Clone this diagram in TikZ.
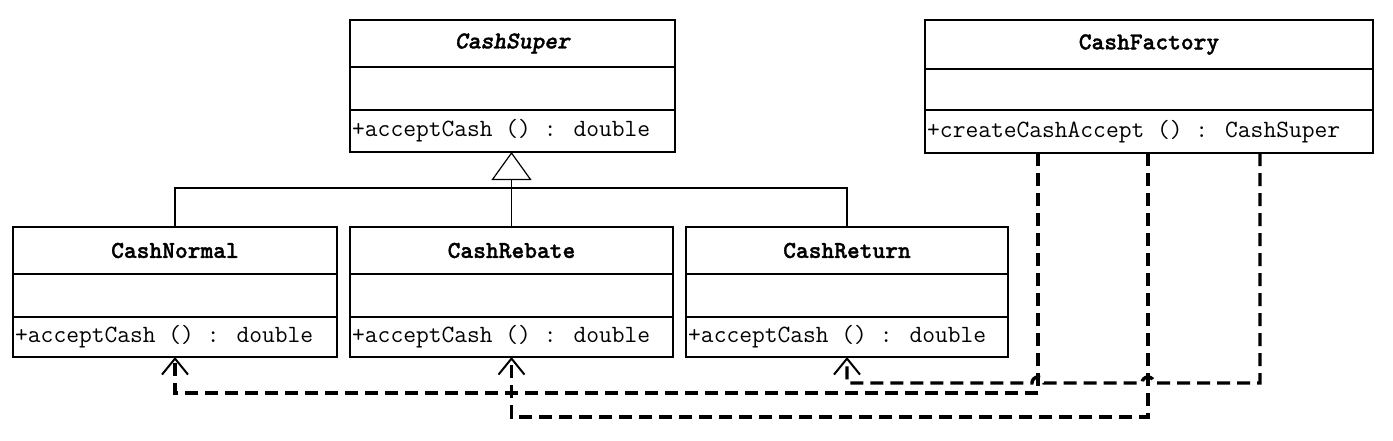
\documentclass[tikz,border=0pt]{standalone}
\usepackage{fontspec}
\newfontfamily\clsfont{lmmonolt10-bold.otf}[FakeBold=1.3, ItalicFont=lmmonolt10-boldoblique.otf, ItalicFeatures={FakeBold=1.3}]
\usetikzlibrary{arrows.meta,calc}
\newcommand{\umlclass}[9]{%
  \node[box, minimum width=#4pt, minimum height=#5pt] (#1) at (#2,#3) {};
  \draw[boxline] ($(#1.north west)+(0,#6)$) -- ($(#1.north east)+(0,#6)$);
  \draw[boxline] ($(#1.north west)+(0,#7)$) -- ($(#1.north east)+(0,#7)$);
  \node[cname] (#1-t) at ($(#1.north)+(0,#6/2)$) {#8};
  \node[meth] (#1-m) at ($(#1.north west)+(2,{(#7+#5)/2})$) {#9};
}
\begin{document}
\begin{tikzpicture}[x=1pt,y=-1pt,
  box/.style={draw, line width=1.6pt, anchor=north west, inner sep=0pt, outer sep=0pt},
  boxline/.style={line width=1.6pt},
  cname/.style={font=\clsfont\fontsize{24.3}{26}\selectfont, inner sep=0pt},
  meth/.style={font=\ttfamily\fontsize{24.8}{26}\selectfont, anchor=west, inner sep=0pt},
  inh/.style={line width=1.2pt},
  dep/.style={line width=3.4pt, dash pattern=on 13pt off 7pt,
    -{Straight Barb[length=16pt,width=26pt,line width=2pt]}},
]
\useasboundingbox[fill=white] (0,0) rectangle (1393,440);

\umlclass{super}{350}{20}{325}{132}{47}{90}{\itshape CashSuper}{+acceptCash () : double}
\umlclass{factory}{925}{20}{448}{133}{49}{90}{CashFactory}{+createCashAccept () : CashSuper}
\umlclass{normal}{13}{227}{324}{130}{47}{90}{CashNormal}{+acceptCash () : double}
\umlclass{rebate}{350}{227}{323}{130}{47}{90}{CashRebate}{+acceptCash () : double}
\umlclass{return}{686}{227}{322}{130}{47}{90}{CashReturn}{+acceptCash () : double}

% generalisation
\coordinate (bus) at (513,188);
\draw[inh] (normal.north) |- (bus) -| (return.north);
\draw[inh, -{Triangle[open, length=28pt, width=40pt]}] (rebate.north) -- (rebate.north |- super.south);

% dependencies
\coordinate (f1) at ($(factory.south west)+(113,0)$);
\coordinate (f2) at ($(factory.south west)+(223,0)$);
\coordinate (f3) at ($(factory.south west)+(335,0)$);
\coordinate (y3) at (0,383);

\draw[dep] (f1) |- ($(normal.south)+(0,36)$) -- (normal.south);
\draw[dep] (f2) |- ($(rebate.south)+(0,60)$) -- (rebate.south);
\draw[dep] (f3) -- (f3 |- y3) -- ($(f2 |- y3)+(6,0)$)
  arc[start angle=0, end angle=-180, radius=6]
  -- ($(f1 |- y3)+(6,0)$)
  arc[start angle=0, end angle=-180, radius=6]
  -- (return.south |- y3) -- (return.south);
\end{tikzpicture}
\end{document}
